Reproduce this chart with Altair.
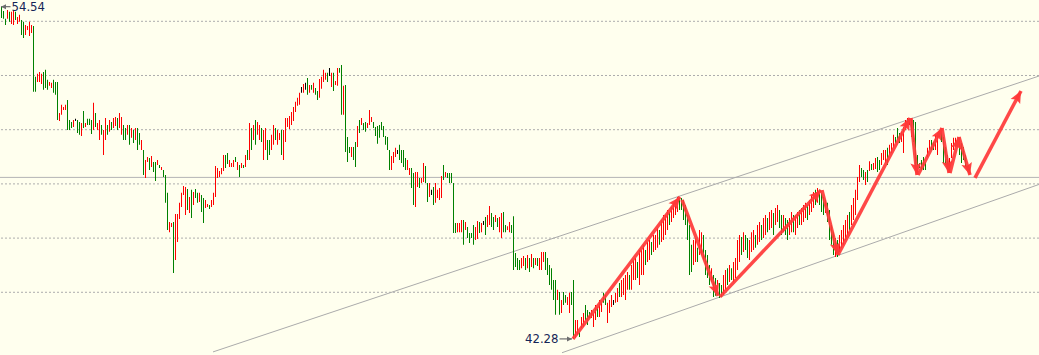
import math
import altair as alt
import pandas as pd

# ---------------- daily bars (high / low / up-down) ----------------
high = [
    # 1
    54.54, 54.38, 54.09, 54.42, 54.35, 54.35, 54.42, 54.35, 54.16, 54.24, 54.05, 53.98, 53.86, 53.83, 53.98, 53.86, 53.83,
    # 2
    51.95, 52.06, 52.13, 52.06, 52.13, 52.21, 51.84, 51.76, 51.73, 51.84, 51.76, 51.76,
    # 3
    50.62, 50.92, 50.84, 50.92, 51.10, 50.36, 50.28, 50.36, 50.40, 50.36, 50.28, 50.25, 50.69, 50.25, 50.40, 50.40, 50.36, 50.99, 50.62, 50.25, 50.36,
    # 4
    50.17, 49.99, 50.43, 50.17, 50.36, 50.28, 50.43, 50.47, 50.43, 50.62, 50.47, 50.17, 50.06, 50.17, 50.17, 50.06, 49.99, 50.06, 50.06, 49.88, 49.62,
    # 5
    49.25, 48.88, 48.99, 48.96, 49.03, 48.81, 48.81, 48.88, 48.70, 48.62,
    48.51, 48.33, 47.67, 46.59, 46.56, 46.59, 46.89, 46.89, 47.30, 47.67,
    47.92, 47.89, 47.81, 47.52, 47.78, 47.70, 47.81, 47.67, 47.67, 47.59,
    47.48, 47.41, 47.26, 47.22, 47.41, 47.67, 48.66, 48.59, 48.48, 48.59,
    49.07, 49.07, 49.14, 48.88, 48.77, 48.88, 48.99, 48.81, 48.70, 48.77,
    48.70, 49.07, 49.25,
    # 6
    50.25, 50.06, 50.17, 50.36, 50.28, 50.17, 50.06, 49.99, 50.06, 49.62, 49.62, 49.81, 50.17, 50.06, 49.99, 49.88,
    # 7
    49.99, 49.99, 50.43, 50.43, 50.51, 50.65, 50.84, 51.03, 51.18, 51.36,
    51.58, 51.69, 51.73, 51.91, 51.65, 51.65, 51.73, 51.54, 51.43, 51.87,
    51.95, 52.21, 52.10, 52.10, 52.28, 52.10, 52.10, 51.80, 52.28, 52.28,
    52.39, 51.62, 51.65, 49.73, 49.36, 49.36, 49.36, 49.55, 50.14, 50.36,
    50.43, 50.25, 50.28, 50.25, 50.73, 50.47, 50.28, 50.10, 50.14, 50.17,
    50.28, 50.14, 49.77, 49.73, 49.25, 49.03, 49.18, 49.33, 49.25, 49.44,
    # 8
    49.25, 49.25, 48.96, 48.88, 48.59, 48.59, 48.40, 48.44, 48.44, 48.22,
    48.22, 48.77, 48.66, 48.03, 48.03, 47.78, 47.89, 48.03, 47.78, 47.85,
    48.29, 48.70, 48.44, 48.40, 48.40, 48.40, 48.03, 46.56, 46.56, 46.56,
    46.67, 46.67, 46.59, 46.41, 46.19, 46.19, 46.48, 46.41, 46.63, 46.59,
    46.56, 46.63, 46.78, 46.85, 47.18, 46.93, 46.78, 46.85, 46.74, 46.78,
    46.93, 46.96, 46.48, 46.44, 46.59, 46.48, 46.81, 45.45, 45.27, 45.19,
    45.27, 45.34, 45.27, 45.38, 45.27, 45.41, 45.27, 45.27, 45.27, 45.27,
    45.49, 45.49, 45.49, 45.27, 45.01,
    # 9
    44.89, 44.45, 44.45, 44.09, 44.01, 43.72, 44.01, 43.90, 43.83, 43.98,
    44.01, 44.45, 42.98, 42.98, 42.53, 43.09, 43.24, 43.53, 43.35, 43.27,
    43.35, 43.24, 43.53, 43.46, 43.72, 43.61, 43.98, 43.90, 43.61, 43.72,
    43.90, 43.72, 43.98, 44.16, 44.34,
    # 10
    44.45, 44.53, 44.64, 44.75, 44.64, 45.01, 45.19, 45.27, 45.12, 45.56,
    45.56, 45.75, 45.56, 45.86, 45.93, 45.86, 46.11, 46.11, 46.37, 46.30,
    46.67, 46.85, 46.85, 47.04, 46.96, 47.15, 47.30, 47.41, 47.52, 47.48,
    47.48,
    # 11
    47.41, 47.22, 46.85, 46.48, 45.75, 45.93, 46.00, 45.64, 46.30, 46.22,
    46.11, 45.56, 45.38, 45.01, 44.89, 44.64, 44.53, 44.45, 44.34, 44.27,
    # 12
    44.64, 44.82, 44.89, 45.01, 44.89, 45.12, 45.27, 45.93, 46.11, 46.04,
    46.22, 46.11, 46.00, 45.93, 46.22, 46.30, 46.11, 46.48, 46.59, 46.48,
    46.74, 46.85, 46.74, 46.96, 47.04, 46.93, 47.11, 47.22, 47.04, 46.85,
    46.85, 46.74, 46.67, 46.74, 46.96, 46.85, 46.85, 46.96, 47.04, 47.11,
    47.22, 47.30, 47.22, 47.41, 47.59, 47.70, 47.78, 47.85, 47.78, 47.67,
    47.52, 47.41, 47.30, 47.04,
    # 13
    46.48, 46.22, 46.00, 45.93, 46.11, 46.30, 46.48, 46.67, 46.85, 46.96, 47.22, 47.48, 47.78, 48.25,
    # 14
    48.70, 48.59, 48.51, 48.44, 48.51, 48.84, 48.73, 48.77, 48.96, 48.99,
    48.88, 49.14, 49.25, 49.25, 49.33, 49.44, 49.51, 49.81, 49.73, 50.06,
    49.88, 49.92, 50.10, 50.36, 50.43, 50.43, 50.43, 50.36, 50.28, 49.07,
    48.77, 48.88, 48.99, 48.81, 49.33, 49.62, 49.62, 49.55, 49.81, 49.88,
    49.99, 49.99, 49.73, 49.36, 49.07, 48.96, 49.51, 49.70, 49.70, 49.70,
    49.62, 49.51, 49.36, 49.07,
]

low = [
    # 1
    54.12, 54.09, 53.86, 54.09, 53.98, 53.90, 53.86, 54.05, 53.90, 53.98, 53.49, 53.38, 53.49, 53.68, 53.46, 53.57, 51.40,
    # 2
    51.40, 51.76, 51.76, 51.69, 51.47, 51.54, 51.47, 51.62, 51.54, 51.36, 51.29, 50.36,
    # 3
    50.32, 50.55, 50.73, 50.73, 49.99, 49.99, 50.06, 50.10, 50.32, 49.88, 49.81, 49.77, 50.06, 50.10, 50.17, 50.17, 49.84, 49.99, 50.10, 49.99, 49.62,
    # 4
    49.81, 49.07, 49.62, 49.81, 49.92, 49.99, 50.06, 50.14, 49.99, 50.06, 49.81, 49.62, 49.62, 49.81, 49.44, 49.70, 49.51, 49.62, 49.25, 49.44, 49.25,
    # 5
    48.33, 48.22, 48.81, 48.51, 48.62, 48.44, 48.11, 48.70, 48.59, 48.51,
    48.25, 47.30, 46.30, 46.22, 46.41, 44.71, 45.19, 45.86, 46.70, 47.15,
    47.59, 46.85, 47.04, 46.93, 46.74, 47.22, 47.48, 47.30, 47.33, 46.96,
    46.56, 47.11, 47.15, 47.07, 47.15, 47.22, 47.52, 48.22, 48.25, 48.36,
    48.48, 48.59, 48.73, 48.62, 48.62, 48.62, 48.81, 48.51, 48.25, 48.59,
    48.59, 48.62, 48.88,
    # 6
    48.88, 49.25, 49.62, 49.44, 49.81, 49.62, 49.55, 48.88, 49.25, 48.88, 49.07, 49.25, 49.44, 49.62, 49.44, 49.62,
    # 7
    49.07, 48.88, 49.55, 50.10, 50.03, 50.17, 50.32, 50.65, 50.88, 50.92,
    51.36, 51.36, 51.47, 51.29, 51.36, 51.47, 51.36, 51.29, 51.10, 51.18,
    51.51, 51.76, 51.84, 51.76, 51.98, 51.58, 51.43, 51.65, 51.62, 52.10,
    50.55, 50.55, 49.18, 48.81, 49.14, 48.99, 48.88, 48.62, 49.36, 49.88,
    50.17, 49.99, 49.92, 50.06, 50.17, 50.28, 50.06, 49.77, 49.48, 49.70,
    49.99, 49.73, 49.44, 49.25, 48.51, 48.51, 48.77, 48.99, 49.10, 48.88,
    # 8
    48.77, 48.62, 48.51, 48.51, 48.33, 47.85, 47.22, 47.15, 47.89, 47.85,
    48.03, 48.07, 48.03, 47.33, 47.52, 47.59, 47.22, 47.30, 47.48, 47.41,
    47.48, 48.14, 48.25, 48.22, 48.03, 48.03, 46.19, 46.19, 46.22, 46.22,
    46.22, 45.75, 46.30, 46.00, 45.82, 46.00, 45.75, 45.93, 45.97, 46.19,
    46.22, 46.48, 46.11, 46.41, 46.48, 46.41, 46.30, 46.59, 46.41, 46.22,
    46.00, 46.22, 46.22, 46.30, 46.22, 46.19, 44.82, 44.93, 44.82, 44.82,
    44.89, 44.97, 44.82, 44.89, 44.75, 44.93, 44.89, 45.01, 44.97, 44.82,
    44.82, 45.12, 44.82, 44.64, 44.27,
    # 9
    44.09, 43.72, 43.17, 43.72, 43.17, 43.24, 43.53, 43.61, 43.53, 43.24,
    43.53, 42.28, 42.31, 42.42, 42.35, 42.68, 42.72, 42.98, 42.79, 43.05,
    43.05, 42.72, 42.98, 43.09, 43.09, 43.27, 43.61, 43.53, 42.87, 43.24,
    43.46, 43.53, 43.61, 43.64, 43.83,
    # 10
    43.83, 43.90, 43.72, 44.09, 44.09, 44.09, 44.45, 44.45, 44.53, 44.27,
    44.64, 44.64, 45.01, 45.12, 45.19, 45.38, 45.49, 45.56, 45.64, 45.75,
    45.86, 45.93, 46.11, 46.30, 46.48, 46.59, 46.74, 46.85, 46.96, 47.04,
    47.04,
    # 11
    46.67, 46.48, 45.93, 44.64, 44.75, 45.01, 45.12, 45.12, 45.38, 45.38,
    45.19, 44.64, 44.53, 44.27, 44.38, 43.83, 43.87, 44.01, 43.79, 43.83,
    # 12
    43.90, 44.09, 44.27, 44.38, 44.45, 44.38, 44.53, 44.82, 45.12, 45.38,
    45.49, 45.56, 45.27, 45.19, 45.49, 45.56, 45.64, 45.75, 45.86, 45.93,
    46.00, 46.11, 46.22, 46.30, 46.37, 46.11, 46.48, 46.59, 46.37, 46.11,
    46.22, 46.11, 45.93, 46.11, 46.22, 46.22, 46.11, 46.37, 46.48, 46.48,
    46.59, 46.74, 46.67, 46.85, 46.96, 47.11, 47.22, 47.30, 47.22, 46.96,
    46.85, 46.93, 46.59, 45.93,
    # 13
    45.75, 45.38, 45.30, 45.30, 45.49, 45.64, 45.75, 45.93, 46.11, 46.30, 46.48, 46.67, 46.85, 47.41,
    # 14
    48.07, 48.25, 48.14, 47.96, 48.07, 48.48, 48.51, 48.51, 48.55, 48.44,
    48.51, 48.70, 48.88, 48.77, 48.70, 49.07, 49.14, 49.33, 49.51, 49.62,
    49.51, 49.55, 49.14, 49.99, 50.17, 50.17, 49.73, 49.55, 48.44, 48.44,
    48.59, 48.51, 48.51, 48.51, 48.99, 49.25, 49.25, 49.25, 49.25, 49.07,
    49.73, 49.55, 48.77, 48.70, 48.70, 48.59, 48.96, 49.25, 49.36, 49.44,
    49.07, 48.77, 48.88, 48.62,
]

# u = close above open (red), d = close below open (green), n = unchanged (black)
move = (
    "ddduduuduudduuuud"
    "duuuddduuddd"
    "uuuudddunddududdduduu"
    "duududuuduuddudududdu"
    "duududdudu" "ddduuduuuu" "uudududdud" "duuduuuuuu" "udduuududu" "dud"
    "ududuuduudduuduu"
    "duuuuuuuuu" "nundududdu" "uuudnuduud" "duddduddud" "udduuudddd" "ddddduuund"
    "ddduudduud" "uuddunduuu" "ududdddduu" "ududddduud" "unduuddudu" "udduuddddd" "uududududu" "uuddd"
    "dddududduu" "dduuduuddd" "uuuduudduu" "unuud"
    "uuuuduuudu" "uuduuduuud" "uuuuduuuud" "d"
    "ddddduuduu" "dddduddudd"
    "uududuuuud" "udduuuduud" "uuduuduudd" "udduuduudu" "uuduuududd" "dudd"
    "dduduuuuuduuuu"
    "uddududuud" "duuuduuudd" "duuuuuuddd" "dddduudduu" "udddduuuuu" "dddd"
)

assert len(high) == len(low) == len(move), (len(high), len(low), len(move))

# ---------------- overlays ----------------
grid_levels = [44, 46, 48, 50, 52, 54]
ref_level = [48.24]

channel_i1 = [105.75, 280.25]
channel_p1 = [41.80, 41.77]
channel_i2 = [518.75, 518.75]
channel_p2 = [51.98, 47.98]

arrow_i1 = [285.75, 340.25, 359.25, 410.25, 418.25, 454.75, 458.25, 470.25, 474.25, 478.75, 486.75]
arrow_p1 = [42.28, 47.41, 43.83, 47.77, 45.38, 50.43, 48.33, 50.06, 48.40, 49.73, 48.22]
arrow_i2 = [339.25, 358.25, 409.75, 418.25, 454.25, 457.75, 470.25, 473.75, 478.75, 484.25, 509.75]
arrow_p2 = [47.52, 43.87, 47.77, 45.38, 50.43, 48.33, 50.06, 48.40, 49.73, 48.33, 51.43]

label_text = ["54.54", "42.28"]
label_i = [0, 286]
label_p = [54.54, 42.28]
label_line_i1 = [-0.25, 279.0]
label_line_i2 = [4.5, 285.25]
label_tip_i = [-0.25, 285.25]
label_tip_angle = [270, 90]

# ---------------- scales ----------------
PX_PER_I = 2.0
PX_PER_P = 27.1
xs = alt.Scale(domain=[-0.75, 518.75], nice=False, zero=False)
ys = alt.Scale(domain=[41.686, 54.786], nice=False, zero=False)

bar_colors = {"u": "#FF0000", "d": "#008000", "n": "#000000"}
bars = pd.DataFrame({"i": list(range(len(high))), "high": high, "low": low, "move": list(move)})
bars["left"] = bars["i"] - 0.25
bars["right"] = bars["i"] + 0.25
bars["col"] = bars["move"].map(bar_colors)

grid = pd.DataFrame({"level": grid_levels})
ref = pd.DataFrame({"level": ref_level})
chan = pd.DataFrame({"i1": channel_i1, "p1": channel_p1, "i2": channel_i2, "p2": channel_p2})

ang = [
    math.degrees(math.atan2((b - a) * PX_PER_I, (d - c) * PX_PER_P)) % 360
    for a, b, c, d in zip(arrow_i1, arrow_i2, arrow_p1, arrow_p2)
]
arrows = pd.DataFrame({"i1": arrow_i1, "p1": arrow_p1, "i2": arrow_i2, "p2": arrow_p2, "ang": ang})
labels = pd.DataFrame({"t": label_text, "i": label_i, "p": label_p})
lab_lines = pd.DataFrame({"i1": label_line_i1, "i2": label_line_i2, "p": label_p,
                          "ti": label_tip_i, "ang": label_tip_angle})


def X(f):
    return alt.X(f, scale=xs, axis=None)


def Y(f):
    return alt.Y(f, scale=ys, axis=None)


grid_layer = alt.Chart(grid).mark_rule(color="#ADADAD", strokeWidth=1, strokeDash=[2, 2]).encode(
    y=Y("level:Q"))
ref_layer = alt.Chart(ref).mark_rule(color="#B4B4B4", strokeWidth=1).encode(y=Y("level:Q"))
chan_layer = alt.Chart(chan).mark_rule(color="#ABABAB", strokeWidth=1, clip=True).encode(
    x=X("i1:Q"), x2="i2:Q", y=Y("p1:Q"), y2="p2:Q")

# each bar is a 1-pixel-wide filled rectangle spanning low..high, coloured by its direction
bar_layer = alt.Chart(bars).mark_rect().encode(
    x=X("left:Q"), x2="right:Q", y=Y("high:Q"), y2="low:Q",
    fill=alt.Fill("col:N", scale=None))

ARROW_RED = "#FF3838"
arrow_lines = alt.Chart(arrows).mark_rule(color=ARROW_RED, strokeWidth=3.5, opacity=0.92).encode(
    x=X("i1:Q"), x2="i2:Q", y=Y("p1:Q"), y2="p2:Q")
arrow_heads = alt.Chart(arrows).mark_point(
    shape="M0,0L0.9,2L0,1.6L-0.9,2Z", filled=True, size=144, color=ARROW_RED, opacity=0.95, strokeWidth=0
).encode(x=X("i2:Q"), y=Y("p2:Q"), angle=alt.Angle("ang:Q", scale=None))

lab_line_layer = alt.Chart(lab_lines).mark_rule(color="#6E6E6E", strokeWidth=1.2).encode(
    x=X("i1:Q"), x2="i2:Q", y=Y("p:Q"))
lab_head_layer = alt.Chart(lab_lines).mark_point(
    shape="M0,0L1,2L-1,2Z", filled=True, size=25, color="#6E6E6E", opacity=1, strokeWidth=0
).encode(x=X("ti:Q"), y=Y("p:Q"), angle=alt.Angle("ang:Q", scale=None))

LABEL_FONT = "DejaVu Sans Condensed"
text_hi = alt.Chart(labels.iloc[[0]]).mark_text(
    align="left", baseline="middle", dx=10, font=LABEL_FONT, fontSize=13, color="#152556"
).encode(x=X("i:Q"), y=Y("p:Q"), text="t:N")
text_lo = alt.Chart(labels.iloc[[1]]).mark_text(
    align="right", baseline="middle", dx=-15, font=LABEL_FONT, fontSize=13, color="#152556"
).encode(x=X("i:Q"), y=Y("p:Q"), text="t:N")

chart = alt.layer(
    grid_layer, ref_layer, chan_layer, bar_layer, arrow_lines, arrow_heads,
    lab_line_layer, lab_head_layer, text_hi, text_lo
).properties(
    width=1039, height=355, padding=0, autosize=alt.AutoSizeParams(type="none"),
    background="#FFFFEE"
).configure_view(strokeWidth=0, fill="#FFFFEE")

chart.save("out.html", embed_options={"renderer": "svg", "actions": False})
